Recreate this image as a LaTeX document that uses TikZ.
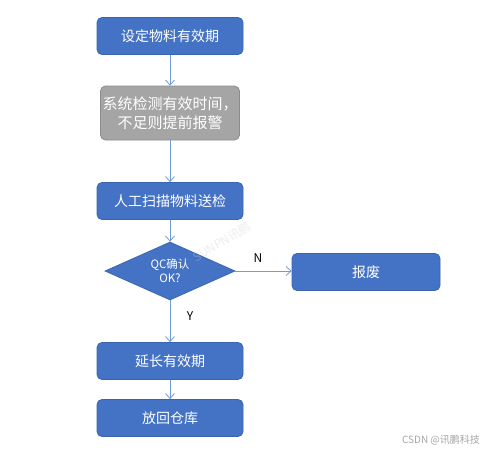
\documentclass[tikz,border=0pt]{standalone}
\usepackage{fontspec}
\setmainfont{Noto Sans CJK SC}
\usetikzlibrary{shapes.geometric,arrows.meta}
\definecolor{boxblue}{HTML}{4472C4}
\definecolor{boxedge}{HTML}{3A64B0}
\definecolor{arrowblue}{HTML}{6F9BD8}
\definecolor{greyfill}{HTML}{A5A5A5}
\definecolor{greyedge}{HTML}{8C8C8C}
\tikzset{
  bluebox/.style={draw=boxedge, fill=boxblue, rounded corners=5pt, line width=0.8pt,
    minimum width=146pt, minimum height=37pt, text=white, font=\fontsize{14}{16}\selectfont, inner sep=0pt},
  greybox/.style={draw=greyedge, fill=greyfill, rounded corners=5pt, line width=0.8pt,
    minimum width=139pt, minimum height=54pt, text=white, font=\fontsize{15}{19}\selectfont, inner sep=0pt, align=center},
  decision/.style={diamond, draw=boxedge, fill=boxblue, line width=0.8pt, aspect=2.24,
    minimum width=130pt, minimum height=58pt, inner sep=0pt},
  dtext/.style={text=white, font=\fontsize{11.5}{14}\selectfont, inner sep=0pt, align=center},
  conn/.style={draw=arrowblue, line width=0.8pt, -{Straight Barb[length=5pt,width=9pt]}},
  lbl/.style={font=\fontsize{12}{14}\selectfont, text=black}
}
\begin{document}
\begin{tikzpicture}[x=1pt,y=-1pt]
\useasboundingbox (0,0) rectangle (500,453);
\fill[white] (0,0) rectangle (500,453);
\node[bluebox] (b1) at (170,36) {设定物料有效期};
\node[greybox] (b2) at (170,113) {系统检测有效时间，\\不足则提前报警};
\node[bluebox] (b3) at (170,201) {人工扫描物料送检};
\node[decision] (d) at (170,271) {};
\node[dtext] (dt) at (d.center) {QC确认\\OK?};
\node[bluebox, minimum width=148pt] (scrap) at (366,272) {报废};
\node[bluebox] (b4) at (170,361) {延长有效期};
\node[bluebox] (b5) at (170,418) {放回仓库};
\draw[conn] (b1) -- (b2);
\draw[conn] (b2) -- (b3);
\draw[conn] (b3) -- (d);
\draw[conn] (d.east) -- (d.east -| scrap.west);
\draw[conn] (d) -- (b4);
\draw[conn] (b4) -- (b5);
\node[lbl] (n) at (258,258) {N};
\node[lbl] (y) at (190,316) {Y};
\node[text=gray!40, opacity=0.35, rotate=30, font=\fontsize{12}{14}\selectfont, inner sep=0pt] (wm) at (222,242) {SUNPN讯鹏};
\node[text=gray!70, font=\fontsize{10}{12}\selectfont] (csdn) at (441,440) {CSDN @讯鹏科技};
\end{tikzpicture}
\end{document}
